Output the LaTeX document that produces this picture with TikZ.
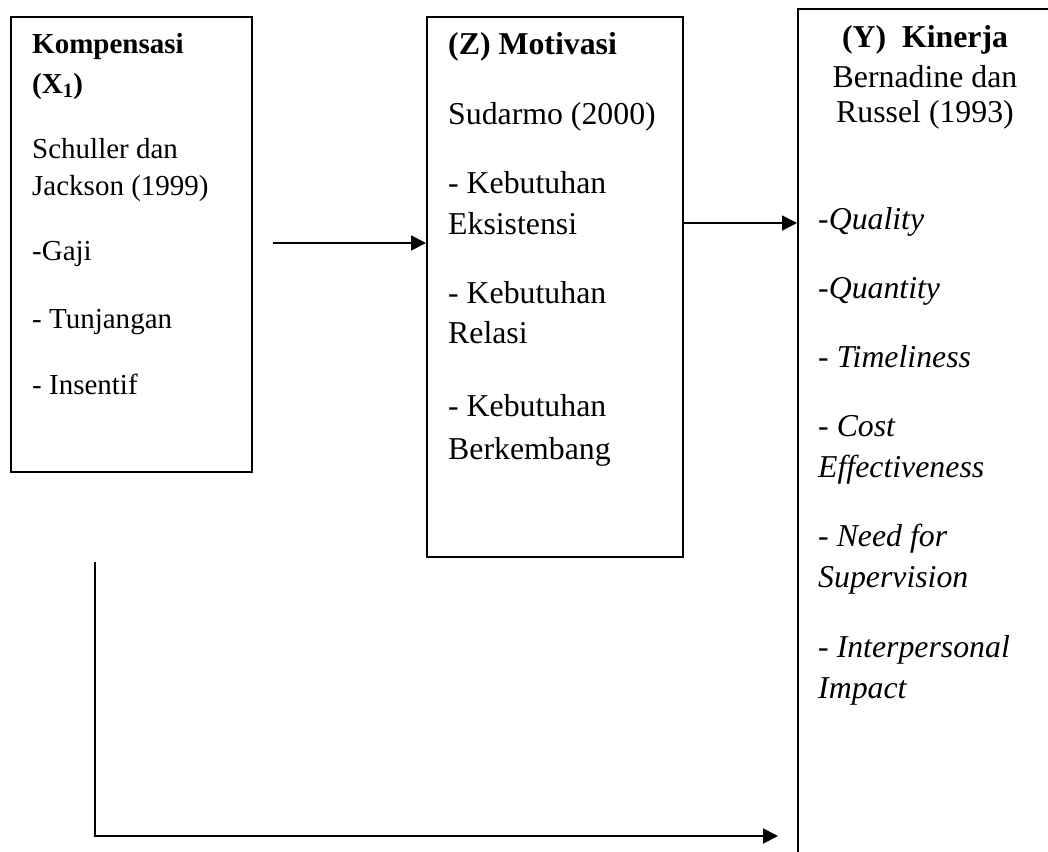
\documentclass[tikz,border=0pt]{standalone}
\usepackage{fontspec}
\setmainfont{Liberation Serif}
\usetikzlibrary{arrows.meta}
\begin{document}
\begin{tikzpicture}[x=1pt,y=-1pt,
  box/.style={draw,line width=1.8pt,inner sep=0pt,anchor=north west},
  txt/.style={anchor=base west,inner sep=0pt,font=\fontsize{29}{35}\selectfont},
  btxt/.style={anchor=base west,inner sep=0pt,font=\fontsize{31.8}{38}\selectfont},
  ctxt/.style={btxt,anchor=base},
  conn/.style={line width=1.8pt,-{Triangle[length=15pt,width=15pt]}}]
\useasboundingbox (0,0) rectangle (1048,851);
\clip (0,0) rectangle (1048,851);
% boxes
\node[box,minimum width=241pt,minimum height=455pt] (b1) at (10,16) {};
\node[box,minimum width=256pt,minimum height=540pt] (b2) at (426,16) {};
\node[box,minimum width=300pt,minimum height=900pt] (b3) at (797,8) {};
% box 1 text
\node[txt] (k1) at (32,53) {\textbf{Kompensasi}};
\node[txt] (k2) at (32,93) {\textbf{(X\textsubscript{1})}};
\node[txt] (k3) at (32,158) {Schuller dan};
\node[txt] (k4) at (32,195) {Jackson (1999)};
\node[txt] (k5) at (32,260) {-Gaji};
\node[txt] (k6) at (32,328) {- Tunjangan};
\node[txt] (k7) at (32,394) {- Insentif};
% box 2 text
\node[btxt] (m1) at (448,55) {\textbf{(Z) Motivasi}};
\node[btxt] (m2) at (448,124) {Sudarmo (2000)};
\node[btxt] (m3) at (448,193) {- Kebutuhan};
\node[btxt] (m4) at (448,234) {Eksistensi};
\node[btxt] (m5) at (448,303) {- Kebutuhan};
\node[btxt] (m6) at (448,343) {Relasi};
\node[btxt] (m7) at (448,416) {- Kebutuhan};
\node[btxt] (m8) at (448,459) {Berkembang};
% box 3 text
\node[ctxt] (y1) at (925,48) {\textbf{(Y)\ \ Kinerja}};
\node[ctxt] (y2) at (925,87) {Bernadine dan};
\node[ctxt] (y3) at (925,122) {Russel (1993)};
\node[btxt] (y4) at (818,229) {-\textit{Quality}};
\node[btxt] (y5) at (818,298) {-\textit{Quantity}};
\node[btxt] (y6) at (818,367) {- \textit{Timeliness}};
\node[btxt] (y7) at (818,436) {- \textit{Cost}};
\node[btxt] (y8) at (818,477) {\textit{Effectiveness}};
\node[btxt] (y9) at (818,546) {- \textit{Need for}};
\node[btxt] (y10) at (818,587) {\textit{Supervision}};
\node[btxt] (y11) at (818,657) {- \textit{Interpersonal}};
\node[btxt] (y12) at (818,698) {\textit{Impact}};
% connectors
\coordinate (a1s) at (273,243);
\draw[conn] (a1s) -- (a1s -| b2.west);
\coordinate (a2y) at (700,223);
\draw[conn] (b2.east |- a2y) -- (b3.west |- a2y);
\coordinate (c1) at (95,562);
\coordinate (c2) at (778,836);
\draw[conn] (c1) |- (c2);
\end{tikzpicture}
\end{document}
